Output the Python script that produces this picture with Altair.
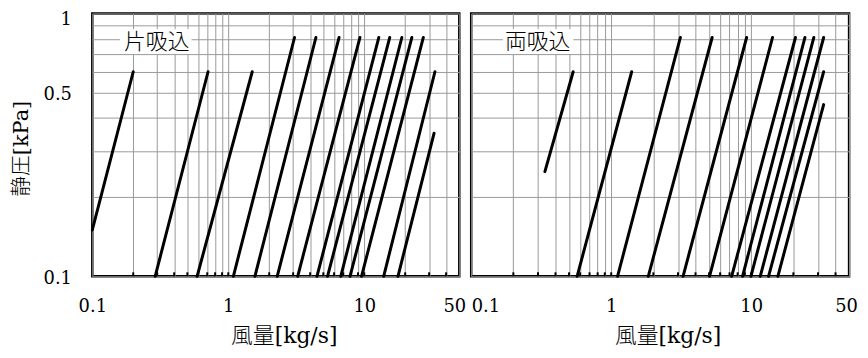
import altair as alt
import pandas as pd

# ---- data ----
left_label = "片吸込"
left_q_start = [0.1, 0.29, 0.59, 1.09, 1.57, 2.29, 3.24, 4.49, 5.37, 6.72, 7.86, 9.55, 13.9, 17.7]
left_p_start = [0.15, 0.1, 0.1, 0.1, 0.1, 0.1, 0.1, 0.1, 0.1, 0.1, 0.1, 0.1, 0.1, 0.1]
left_q_end = [0.2, 0.71, 1.5, 3.07, 4.41, 6.53, 9.3, 12.8, 15.4, 18.9, 22.4, 27.2, 33.1, 32.6]
left_p_end = [0.6, 0.6, 0.6, 0.81, 0.81, 0.81, 0.81, 0.81, 0.81, 0.81, 0.81, 0.81, 0.6, 0.35]

right_label = "両吸込"
right_q_start = [0.336, 0.571, 1.11, 1.84, 3.26, 5.04, 7.25, 8.67, 9.95, 11.6, 13.3, 15.5]
right_p_start = [0.25, 0.1, 0.1, 0.1, 0.1, 0.1, 0.1, 0.1, 0.1, 0.1, 0.1, 0.1]
right_q_end = [0.535, 1.40, 3.12, 5.26, 9.27, 14.2, 20.7, 24.2, 28.0, 32.9, 32.9, 32.9]
right_p_end = [0.6, 0.6, 0.81, 0.81, 0.81, 0.81, 0.81, 0.81, 0.81, 0.81, 0.6, 0.45]

x_grid = [0.1, 0.2, 0.3, 0.4, 0.5, 0.6, 0.7, 0.8, 0.9,
          1, 2, 3, 4, 5, 6, 7, 8, 9, 10, 20, 30, 40, 50]
x_labels = [0.1, 1, 10, 50]
y_grid = [0.1, 0.2, 0.3, 0.4, 0.5, 0.6, 0.7, 0.8, 0.9, 1]
y_labels = [0.1, 0.5, 1]
x_title = "風量[kg/s]"
y_title = "静圧[kPa]"

FONT = "DejaVu Serif, Noto Sans CJK JP"
H = 265


def label_expr(vals):
    parts = " : ".join(f"datum.value == {v} ? '{v}'" for v in vals)
    return parts + " : ''"


def panel(qs, ps, qe, pe, label, width, left):
    df = pd.DataFrame({"q0": qs, "p0": ps, "q1": qe, "p1": pe})
    xs = alt.Scale(type="log", domain=[0.1, 50], nice=False)
    ys = alt.Scale(type="log", domain=[0.1, 1], nice=False)

    if left:
        xaxis = alt.Axis(values=x_grid, labelExpr=label_expr(x_labels), grid=True,
                         title=x_title, titleX=193, titleY=60, titleBaseline="middle",
                         titleAlign="center", labelBaseline="middle", labelPadding=31,
                         labelOffset={"condition": {"test": "datum.value == 50", "value": -5}, "value": 0},
                         labelAlign="center")
        yaxis = alt.Axis(values=y_grid, labelExpr=label_expr(y_labels), grid=True,
                         title=y_title, titleX=-71, titleY=136, titleAngle=270,
                         titleBaseline="middle", titleAlign="center", titleFontSize=21,
                         labelPadding=21, labelAlign="right",
                         labelOffset={"condition": {"test": "datum.value == 1", "value": 6}, "value": 2})
    else:
        xaxis = alt.Axis(values=x_grid, labelExpr=label_expr(x_labels), grid=True,
                         title=x_title, titleX=198, titleY=60, titleBaseline="middle",
                         titleAlign="center", labelBaseline="middle", labelPadding=31,
                         labelOffset={"condition": {"test": "datum.value == 50", "value": -3}, "value": 0},
                         labelAlign={"condition": {"test": "datum.value == 0.1", "value": "left"}, "value": "center"})
        yaxis = alt.Axis(values=y_grid, grid=True, labels=False, title=None)

    lines = alt.Chart(df).mark_rule(strokeWidth=3, color="black", strokeCap="round").encode(
        x=alt.X("q0:Q", scale=xs, axis=xaxis),
        x2="q1:Q",
        y=alt.Y("p0:Q", scale=ys, axis=yaxis),
        y2="p1:Q",
    )
    ticks_df = pd.DataFrame({"v": [v for v in x_grid if v not in (0.1, 50)]})
    ticks = alt.Chart(ticks_df).mark_rule(strokeWidth=2, color="black").encode(
        x=alt.X("v:Q", scale=xs),
        y=alt.value(H),
        y2=alt.value(H - 4),
    )
    lab_df = pd.DataFrame({"label": [label]})
    if left:
        bx0, bx1, tx = 28, 100, 65
    else:
        bx0, bx1, tx = 32, 103, 67
    box = alt.Chart(lab_df).mark_rect(fill="white").encode(
        x=alt.value(bx0), x2=alt.value(bx1), y=alt.value(16), y2=alt.value(41)
    )
    text = alt.Chart(lab_df).mark_text(font=FONT, fontSize=22, fontWeight=300, color="black",
                                       align="center", baseline="middle").encode(
        x=alt.value(tx), y=alt.value(29), text="label:N"
    )
    return alt.layer(box, text, ticks, lines).properties(width=width, height=H)


left_chart = panel(left_q_start, left_p_start, left_q_end, left_p_end, left_label, 370, True)
right_chart = panel(right_q_start, right_p_start, right_q_end, right_p_end, right_label, 381, False)

chart = alt.HConcatChart(hconcat=[left_chart, right_chart], spacing=12, bounds="flush").properties(
    autosize=alt.AutoSizeParams(type="none"),
    padding={"left": 85, "top": 3, "right": 774, "bottom": 337},
).configure_view(
    stroke="black", strokeWidth=2.5
).configure_axis(
    gridColor="#999999", gridWidth=1, gridOpacity=1, domain=False, ticks=False, tickSize=0,
    labelFont=FONT, labelFontSize=18, labelColor="black",
    titleFont=FONT, titleFontSize=22, titleColor="black", titleFontWeight=300,
    labelOverlap=False, labelFlush=False,
)

chart.save("out.html", embed_options={"renderer": "svg", "actions": False})
